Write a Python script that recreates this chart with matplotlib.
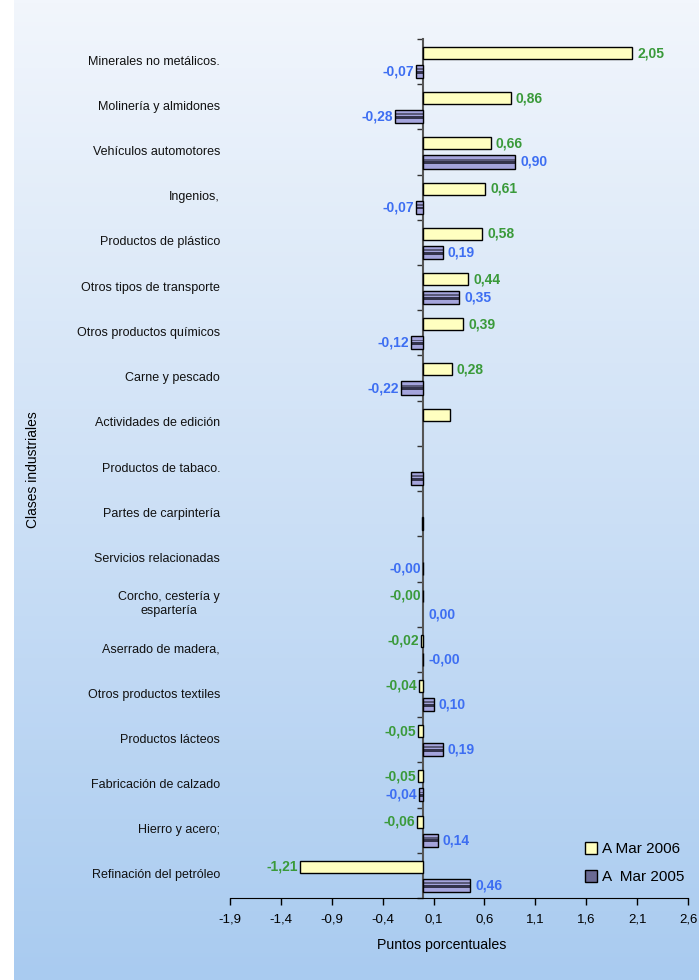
import numpy as np
import matplotlib.pyplot as plt
import matplotlib.transforms as mtransforms
from matplotlib.colors import LinearSegmentedColormap
from matplotlib.patches import Patch

plt.rcParams['font.family'] = ['Liberation Sans', 'DejaVu Sans']

categorias = ['Minerales no metálicos.', 'Molinería y almidones', 'Vehículos automotores',
              'Ingenios,', 'Productos de plástico', 'Otros tipos de transporte',
              'Otros productos químicos', 'Carne y pescado', 'Actividades de edición',
              'Productos de tabaco.', 'Partes de carpintería', 'Servicios relacionadas',
              'Corcho, cestería y\nespartería', 'Aserrado de madera,', 'Otros productos textiles',
              'Productos lácteos', 'Fabricación de calzado', 'Hierro y acero;',
              'Refinación del petróleo']

nan = np.nan
mar2006 = [2.05, 0.86, 0.66, 0.61, 0.58, 0.44, 0.39, 0.28, 0.26, nan,
           nan, nan, -0.004, -0.02, -0.04, -0.05, -0.05, -0.06, -1.21]
mar2005 = [-0.07, -0.28, 0.90, -0.07, 0.19, 0.35, -0.12, -0.22, nan, -0.12,
           -0.01, -0.004, nan, -0.004, 0.10, 0.19, -0.04, 0.14, 0.46]

etiq2006 = ['2,05', '0,86', '0,66', '0,61', '0,58', '0,44', '0,39', '0,28', None, None,
            None, None, '-0,00', '-0,02', '-0,04', '-0,05', '-0,05', '-0,06', '-1,21']
etiq2005 = ['-0,07', '-0,28', '0,90', '-0,07', '0,19', '0,35', '-0,12', '-0,22', None, None,
            None, '-0,00', '0,00', '-0,00', '0,10', '0,19', '-0,04', '0,14', '0,46']
# etiquetas negativas que Excel puso a la derecha
derecha2005 = [13]

xticks = [-1.9, -1.4, -0.9, -0.4, 0.1, 0.6, 1.1, 1.6, 2.1, 2.6]

fig = plt.figure(figsize=(6.99, 9.8), dpi=100)

# fondo degradado
bg = fig.add_axes([14 / 699, 0, 1 - 14 / 699, 1], zorder=-10)
cmap = LinearSegmentedColormap.from_list('fondo', ['#a9cbf0', '#f2f6fc'])
bg.imshow(np.linspace(0, 1, 256).reshape(-1, 1), aspect='auto', cmap=cmap,
          origin='lower', extent=[0, 1, 0, 1])
bg.axis('off')

ax = fig.add_axes([230 / 699, 1 - 898 / 980, 458 / 699, 859 / 980])
ax.patch.set_alpha(0)

n = len(categorias)
y = np.arange(n)
h6, h5 = 0.265, 0.29
off6, off5 = 0.19, 0.22

ax.barh(y - off6, mar2006, height=h6, color='#ffffc0', edgecolor='black', linewidth=1, zorder=3)
# barras 2005 con rayas tipo cilindro
ax.barh(y + off5, mar2005, height=h5, color='#a4a4dc', linewidth=0, zorder=3)
ax.barh(y + off5 - h5 * 0.18, mar2005, height=h5 * 0.14, color='#5a5a7a', linewidth=0, zorder=3)
ax.barh(y + off5 + h5 * 0.06, mar2005, height=h5 * 0.22, color='#34344c', linewidth=0, zorder=3)
ax.barh(y + off5, mar2005, height=h5, fill=False, edgecolor='black', linewidth=1, zorder=4)

verde = '#3a9a3a'
azul = '#3d6ef2'
for i in range(n):
    for val, lab, dy, col, der in ((mar2006[i], etiq2006[i], -off6, verde, False),
                                   (mar2005[i], etiq2005[i], off5, azul, i in derecha2005)):
        if lab is None:
            continue
        if np.isnan(val):
            val = 0.0
        if lab.startswith('-') and not der:
            ax.text(min(val, 0) - 0.02, y[i] + dy, lab, ha='right', va='center', color=col,
                    fontsize=10, fontweight='bold')
        else:
            ax.text(max(val, 0) + 0.05, y[i] + dy, lab, ha='left', va='center', color=col,
                    fontsize=10, fontweight='bold')

ax.set_xlim(-1.9, 2.6)
ax.set_ylim(n - 0.5, -0.5)
ax.set_xticks(xticks)
ax.set_xticklabels([f'{t:.1f}'.replace('.', ',') for t in xticks], fontsize=9.5)
ax.tick_params(axis='x', direction='out', length=5, width=1, pad=6)

ax.spines['top'].set_visible(False)
ax.spines['right'].set_visible(False)
ax.spines['left'].set_position(('data', 0))
ax.spines['left'].set_color('#555555')
ax.spines['left'].set_linewidth(1.5)
ax.set_yticks(y)
ax.set_yticklabels([])
ax.tick_params(axis='y', which='major', length=0)
ax.set_yticks(np.arange(n + 1) - 0.5, minor=True)
ax.tick_params(axis='y', which='minor', length=4, width=1, direction='out', color='#333333')

trans = mtransforms.blended_transform_factory(fig.transFigure, ax.transData)
for i, c in enumerate(categorias):
    ax.text(220 / 699, y[i], c, transform=trans, ha='right', va='center', fontsize=9,
            multialignment='center', color='#111111')

fig.text(33 / 699, 1 - 470 / 980, 'Clases industriales', rotation=90, ha='center',
         va='center', fontsize=10)
fig.text(442 / 699, 1 - 945 / 980, 'Puntos porcentuales', ha='center', va='center',
         fontsize=10.2)

handles = [Patch(facecolor='#ffffc0', edgecolor='black', label='A Mar 2006'),
           Patch(facecolor='#6a6a94', edgecolor='black', label='A  Mar 2005')]
fig.legend(handles=handles, loc='center left', bbox_to_anchor=(571 / 699, 1 - 863 / 980),
           frameon=False, fontsize=11, handlelength=0.8, handleheight=0.8,
           handletextpad=0.3, labelspacing=0.9)

fig.savefig('out.png', dpi=100)
